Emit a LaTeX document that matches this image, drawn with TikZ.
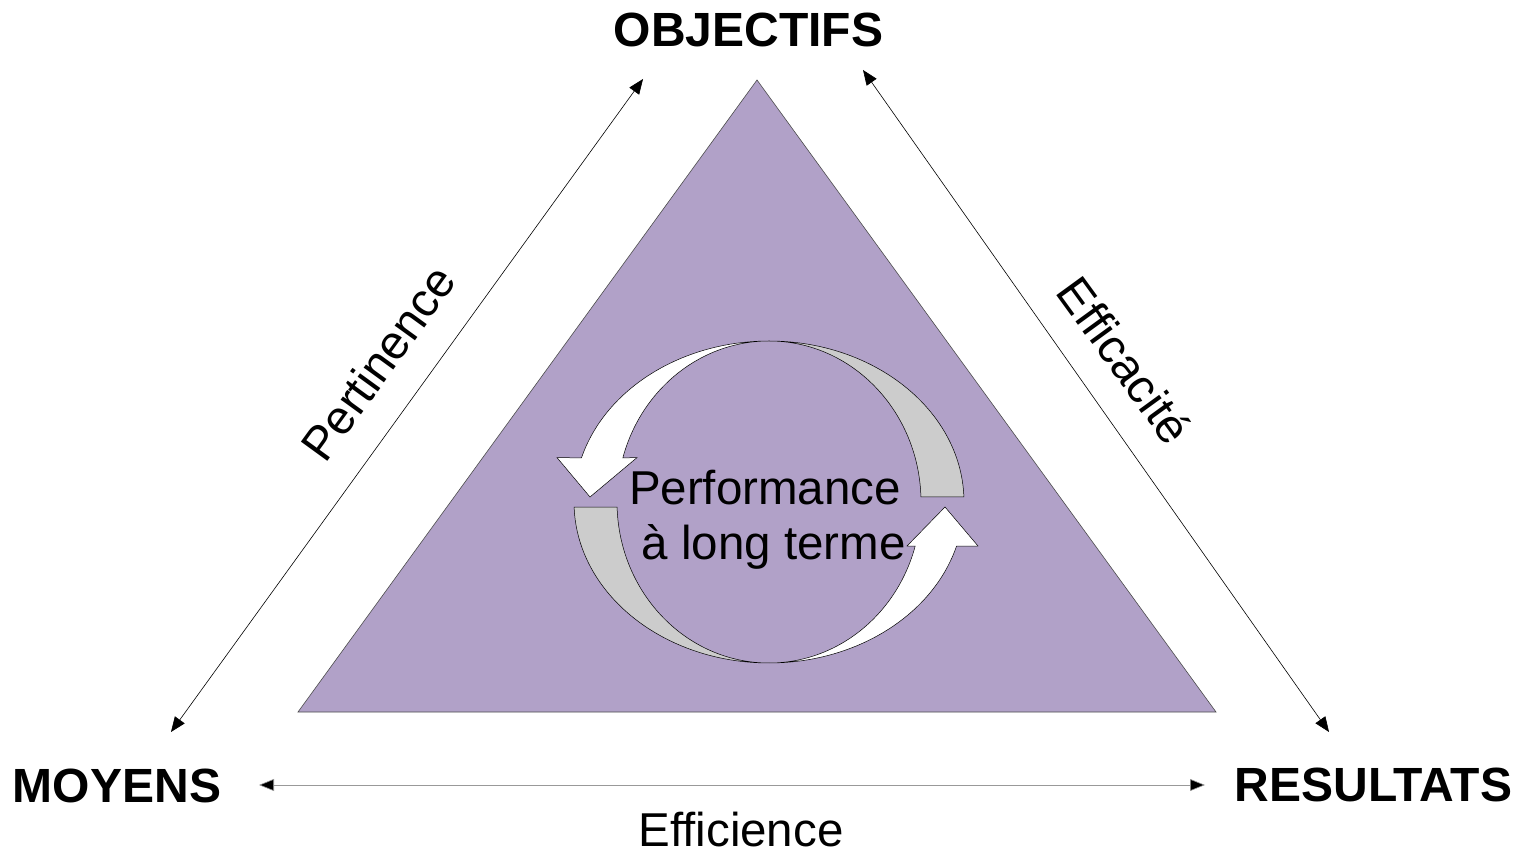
\documentclass[tikz,border=0pt]{standalone}
\usepackage{fontspec}
\setmainfont{Liberation Sans}
\usetikzlibrary{arrows.meta,calc}
\definecolor{trifill}{HTML}{B1A1C8}
\definecolor{bandgray}{HTML}{CCCCCC}
\definecolor{effgray}{HTML}{999999}
\tikzset{
  headlabel/.style={font=\fontsize{48}{52}\selectfont\bfseries, inner sep=0pt},
  edgelabel/.style={font=\fontsize{47.5}{52}\selectfont, inner sep=0pt},
  relarrow/.style={draw=black, line width=0.6pt, {Triangle[length=15pt,width=12pt]}-{Triangle[length=15pt,width=12pt]}},
  band/.style={draw=black, line width=0.5pt},
}
\begin{document}
\begin{tikzpicture}[x=1pt,y=1pt]
\useasboundingbox (0,0) rectangle (1522,854);
% triangle
\path[fill=trifill, draw=black!70, line width=0.6pt] (757,774) -- (298,142) -- (1216,142) -- cycle;
% circular arrows (center 769,352)
\coordinate (C) at (769,352);
% gray part of upper arrow
\path[band, fill=bandgray] (769,513) arc[start angle=90, end angle=1.8, x radius=195, y radius=161]
  -- ($(C)+(1.8:152 and 161)$) arc[start angle=1.8, end angle=90, x radius=152, y radius=161] -- cycle;
% white part of upper arrow
\path[band, fill=white] (769,513) arc[start angle=90, end angle=164.1, x radius=195, y radius=161]
  -- (557,396.4) -- (590,357) -- (637,396.4)
  -- ($(C)+(164.1:152 and 161)$) arc[start angle=164.1, end angle=90, x radius=152, y radius=161] -- cycle;
% gray part of lower arrow
\path[band, fill=bandgray] ($(C)+(181.8:195 and 161)$) arc[start angle=181.8, end angle=270, x radius=195, y radius=161]
  arc[start angle=270, end angle=181.8, x radius=152, y radius=161] -- cycle;
% white part of lower arrow
\path[band, fill=white] (769,191) arc[start angle=270, end angle=344.1, x radius=195, y radius=161]
  -- (978,308) -- (945,347) -- (907,308)
  -- ($(C)+(344.1:152 and 161)$) arc[start angle=344.1, end angle=270, x radius=152, y radius=161] -- cycle;
% center text
\node[edgelabel, anchor=base] (perf) at (765,349) {Performance};
\node[edgelabel, anchor=base] (terme) at (773.5,294) {à long terme};
% corner labels
\node[headlabel] (obj) at (748.5,824) {OBJECTIFS};
\node[headlabel] (moy) at (117,68) {MOYENS};
\node[headlabel] (res) at (1373.5,69) {RESULTATS};
% arrow ends
\coordinate (pA) at (171,122);
\coordinate (pB) at (643,775);
\coordinate (eA) at (863,784);
\coordinate (eB) at (1329,122);
\coordinate (fA) at (259,69);
\coordinate (fB) at (1205,69);
\draw[relarrow] (pA) -- (pB);
\draw[relarrow] (eA) -- (eB);
\draw[relarrow, draw=effgray, {Triangle[length=15pt,width=12pt,fill=black]}-{Triangle[length=15pt,width=12pt,fill=black]}] (fA) -- (fB);
% relation labels
\node[edgelabel, rotate=54] (pert) at (378,491) {Pertinence};
\node[edgelabel, rotate=-54] (effi) at (1125,494) {Efficacité};
\node[edgelabel, anchor=base] (effc) at (741,8) {Efficience};
\end{tikzpicture}
\end{document}
